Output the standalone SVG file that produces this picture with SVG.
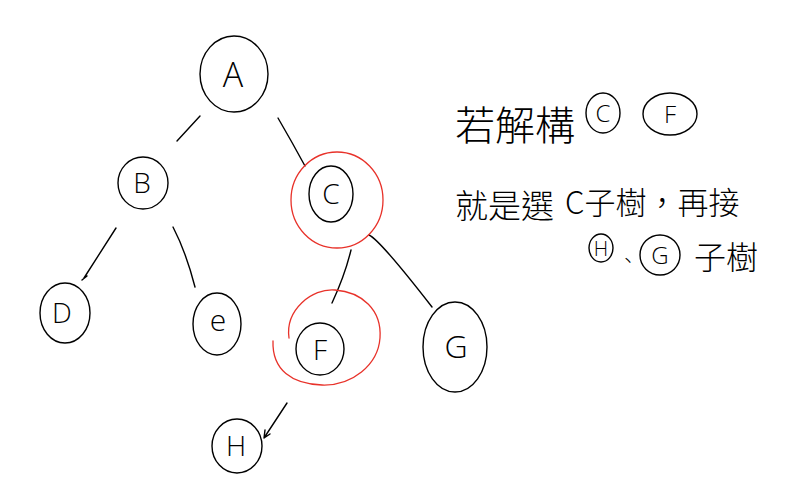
<svg xmlns="http://www.w3.org/2000/svg" width="794" height="493" viewBox="0 0 794 493">
<style>
.c{fill:none;stroke:#000;stroke-width:1.4;stroke-linecap:round}
.r{fill:none;stroke:#e8322a;stroke-width:1.3;stroke-linecap:round}
.l{fill:#000;font-family:"Open Sans","Liberation Sans",sans-serif;font-weight:300;text-anchor:middle}
.z{fill:#000;font-family:"Noto Sans CJK TC","Noto Sans CJK SC",sans-serif;font-weight:300}
</style>
<rect width="794" height="493" fill="#fff"/>
<g id="connectors">
<path class="c" d="M200,116 L177,141"/>
<path class="c" d="M278,118 Q292,142 305,166"/>
<path class="c" d="M116,228 L84,278 M82,280 L87,276"/>
<path class="c" d="M173,227 Q186,252 195,287"/>
<path class="c" d="M351,250 Q345,275 332,303"/>
<path class="c" d="M369,235 Q380,240 432,307"/>
<path class="c" d="M287,403 L264,438 M264,438 L265,430 M264,438 L270,434"/>
</g>
<g id="node-A">
<ellipse class="c" cx="234" cy="74" rx="34" ry="38"/>
<text class="l" x="233" y="87" font-size="34">A</text>
</g>
<g id="node-B">
<ellipse class="c" cx="143" cy="183" rx="25" ry="26"/>
<text class="l" x="142" y="193" font-size="28">B</text>
</g>
<g id="node-C">
<ellipse class="c" cx="331" cy="194" rx="22" ry="28"/>
<ellipse class="r" cx="337" cy="200" rx="46" ry="48"/>
<text class="l" x="331" y="204" font-size="28">C</text>
</g>
<g id="node-D">
<ellipse class="c" cx="65" cy="313" rx="25" ry="30"/>
<text class="l" x="62" y="323" font-size="28">D</text>
</g>
<g id="node-E">
<ellipse class="c" cx="217" cy="324" rx="24" ry="31"/>
<text class="l" x="218" y="331" font-size="30">e</text>
</g>
<g id="node-F">
<ellipse class="c" cx="320" cy="349" rx="24" ry="26"/>
<path class="r" d="M289,338 C285,310 312,288 335,290 C362,292 382,310 380,338 C378,365 352,386 322,385 C292,384 272,370 273,341"/>
<text class="l" x="320" y="360" font-size="28">F</text>
</g>
<g id="node-G">
<ellipse class="c" cx="455" cy="347" rx="32" ry="45"/>
<text class="l" x="456" y="358" font-size="32">G</text>
</g>
<g id="node-H">
<ellipse class="c" cx="237" cy="446" rx="25" ry="27"/>
<text class="l" x="236" y="456" font-size="28">H</text>
</g>
<g id="note">
<text class="z" x="455" y="140" font-size="40">若解構</text>
<ellipse class="c" cx="603" cy="113" rx="17" ry="20"/>
<text class="l" x="603" y="122" font-size="24">C</text>
<ellipse class="c" cx="670" cy="114" rx="27" ry="21"/>
<text class="l" x="670" y="123" font-size="24">F</text>
<text class="z" x="455" y="218" font-size="33">就是選</text>
<text class="z" x="565" y="214" font-size="31">C子樹，再接</text>
<ellipse class="c" cx="601" cy="248" rx="12" ry="14"/>
<text class="l" x="601" y="256" font-size="20">H</text>
<text class="z" x="618" y="268" font-size="20">、</text>
<ellipse class="c" cx="660" cy="255" rx="20" ry="20"/>
<text class="l" x="660" y="264" font-size="24">G</text>
<text class="z" x="694" y="269" font-size="32">子樹</text>
</g>
</svg>
